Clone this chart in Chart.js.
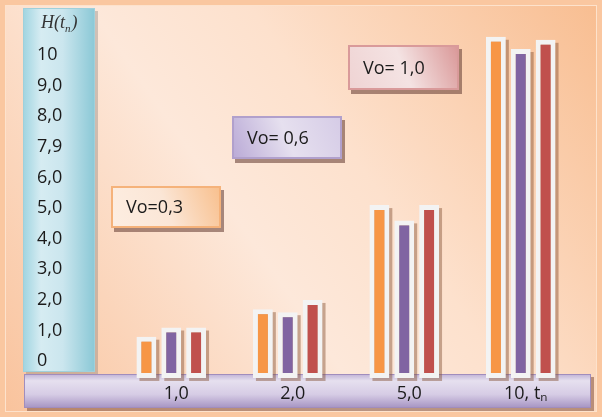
<!DOCTYPE html>
<html lang="ru">
<head>
  <meta charset="UTF-8">
  <title>H(tn)</title>
  <script src="https://cdn.jsdelivr.net/npm/chart.js"></script>
  <style>
    html, body { margin: 0; padding: 0; background: #fac7a0; }
    #wrap { width: 602px; height: 417px; }
  </style>
</head>
<body>
  <div id="wrap"><canvas id="chart" width="602" height="417"></canvas></div>

  <script>
    // values
    const categories = ['1,0', '2,0', '5,0', '10, tₙ'];
    const seriesNames = ['Vo=0,3', 'Vo= 0,6', 'Vo= 1,0'];
    const vo03 = [0.8, 1.7, 5.1, 10.6];
    const vo06 = [1.1, 1.6, 4.6, 10.2];
    const vo10 = [1.1, 2.0, 5.1, 10.5];
    const yTickLabels = ['0', '1,0', '2,0', '3,0', '4,0', '5,0', '6,0', '7,9', '8,0', '9,0', '10'];

    const Y_MIN = -0.55;
    const Y_MAX = 11.35;
    const barColors = ['#f79646', '#8064a2', '#c0504d'];

    // boxes used as labels for the three series
    const boxStyles = [
      { x: 111, y: 186, w: 110, h: 42, c1: '#fdeee2', mid: '#fbe6d6', c2: '#f8bf8c', border: '#f5b27a' },
      { x: 232, y: 116, w: 110, h: 43, c1: '#b9a9d6', mid: '#e6e0ef', c2: '#d5cbe6', border: '#b1a0cc' },
      { x: 348, y: 45,  w: 111, h: 45, c1: '#efd3d3', mid: '#f4e3e3', c2: '#d99696', border: '#d99a9a' }
    ];

    const backdrop = {
      id: 'backdrop',
      beforeDraw(chart) {
        const ctx = chart.ctx;
        const W = chart.width, H = chart.height;
        ctx.save();
        // page
        ctx.fillStyle = '#fac7a0';
        ctx.fillRect(0, 0, W, H);
        const g = ctx.createLinearGradient(0, H, W, 0);
        g.addColorStop(0, '#f9c29b');
        g.addColorStop(0.42, '#fde8da');
        g.addColorStop(0.6, '#fde1cd');
        g.addColorStop(1, '#f8bd90');
        ctx.fillStyle = g;
        ctx.fillRect(5, 5, W - 10, H - 10);
        ctx.strokeStyle = '#fde2cc';
        ctx.lineWidth = 1;
        ctx.strokeRect(5.5, 5.5, W - 11, H - 11);

        // blue column behind the value labels
        ctx.fillStyle = 'rgba(120,120,120,0.35)';
        ctx.fillRect(26, 11, 72, 364);
        const gb = ctx.createLinearGradient(23, 0, 95, 0);
        gb.addColorStop(0, '#9fd4e0');
        gb.addColorStop(0.25, '#d6ecf2');
        gb.addColorStop(0.55, '#cbe6ee');
        gb.addColorStop(1, '#8ac8d6');
        ctx.fillStyle = gb;
        ctx.fillRect(23, 8, 72, 364);
        ctx.strokeStyle = '#9fd0db';
        ctx.strokeRect(23.5, 8.5, 71, 363);

        // H(t_n)
        ctx.fillStyle = '#333';
        ctx.textBaseline = 'alphabetic';
        ctx.textAlign = 'left';
        ctx.font = 'italic 18px "Liberation Serif"';
        let tx = 41;
        ctx.fillText('H(t', tx, 28);
        tx += ctx.measureText('H(t').width;
        ctx.font = 'italic 11px "Liberation Serif"';
        ctx.fillText('n', tx, 32);
        tx += ctx.measureText('n').width + 1;
        ctx.font = 'italic 18px "Liberation Serif"';
        ctx.fillText(')', tx, 28);

        // lavender strip under the bars
        ctx.fillStyle = 'rgba(130,80,60,0.55)';
        ctx.fillRect(27, 377, 567, 34);
        const gl = ctx.createLinearGradient(0, 374, 0, 408);
        gl.addColorStop(0, '#bfb1d5');
        gl.addColorStop(0.2, '#e6e0ef');
        gl.addColorStop(0.6, '#d6cce5');
        gl.addColorStop(1, '#a593c2');
        ctx.fillStyle = gl;
        ctx.fillRect(24, 374, 567, 34);
        ctx.strokeStyle = '#a08dbd';
        ctx.strokeRect(24.5, 374.5, 566, 33);

        // series label boxes
        ctx.font = '18px "Open Sans"';
        ctx.textBaseline = 'middle';
        boxStyles.forEach((b, i) => {
          ctx.fillStyle = 'rgba(110,70,60,0.6)';
          ctx.fillRect(b.x + 3, b.y + 4, b.w, b.h);
          const gx = ctx.createLinearGradient(b.x, b.y + b.h, b.x + b.w, b.y);
          gx.addColorStop(0, b.c1);
          gx.addColorStop(0.5, b.mid);
          gx.addColorStop(1, b.c2);
          ctx.fillStyle = gx;
          ctx.fillRect(b.x, b.y, b.w, b.h);
          ctx.strokeStyle = b.border;
          ctx.lineWidth = 2;
          ctx.strokeRect(b.x + 1, b.y + 1, b.w - 2, b.h - 2);
          ctx.fillStyle = '#1b1b1b';
          ctx.fillText(seriesNames[i], b.x + 15, b.y + b.h / 2 + 1);
        });
        ctx.restore();
      },
      beforeDatasetsDraw(chart) {
        // soft shadow behind every bar
        const ctx = chart.ctx;
        ctx.save();
        ctx.fillStyle = 'rgba(130,80,50,0.45)';
        chart.data.datasets.forEach((ds, i) => {
          chart.getDatasetMeta(i).data.forEach(bar => {
            const p = bar.getProps(['x', 'y', 'base', 'width'], true);
            ctx.fillRect(p.x - p.width / 2 + 3, p.y + 3, p.width, p.base - p.y);
          });
        });
        ctx.restore();
      }
    };

    const makeSet = (name, values, color) => ({
      label: name,
      data: values,
      base: Y_MIN,
      backgroundColor: color,
      borderColor: '#f3f3f3',
      borderWidth: 5,
      borderSkipped: false
    });

    new Chart(document.getElementById('chart'), {
      type: 'bar',
      data: {
        labels: categories,
        datasets: [
          makeSet(seriesNames[0], vo03, barColors[0]),
          makeSet(seriesNames[1], vo06, barColors[1]),
          makeSet(seriesNames[2], vo10, barColors[2])
        ]
      },
      options: {
        responsive: false,
        devicePixelRatio: 1,
        animation: false,
        layout: { padding: { left: 37, right: 23, top: 8, bottom: 0 } },
        plugins: {
          legend: { display: false },
          tooltip: { enabled: false }
        },
        datasets: {
          bar: { categoryPercentage: 0.64, barPercentage: 0.8 }
        },
        scales: {
          x: {
            grid: { display: false, drawTicks: false },
            border: { display: false },
            ticks: {
              color: '#1b1b1b',
              font: { family: 'Open Sans', size: 18 },
              padding: 5,
              labelOffset: 5
            },
            afterFit(scale) { scale.height = 39; }
          },
          y: {
            min: Y_MIN,
            max: Y_MAX,
            grid: { display: false, drawTicks: false },
            border: { display: false },
            afterBuildTicks(scale) {
              scale.ticks = yTickLabels.map((_, i) => ({ value: i }));
            },
            ticks: {
              crossAlign: 'far',
              color: '#1b1b1b',
              font: { family: 'Open Sans', size: 18 },
              callback: (value, index) => yTickLabels[index]
            },
            afterFit(scale) { scale.width = 76; }
          }
        }
      },
      plugins: [backdrop]
    });
  </script>
</body>
</html>
